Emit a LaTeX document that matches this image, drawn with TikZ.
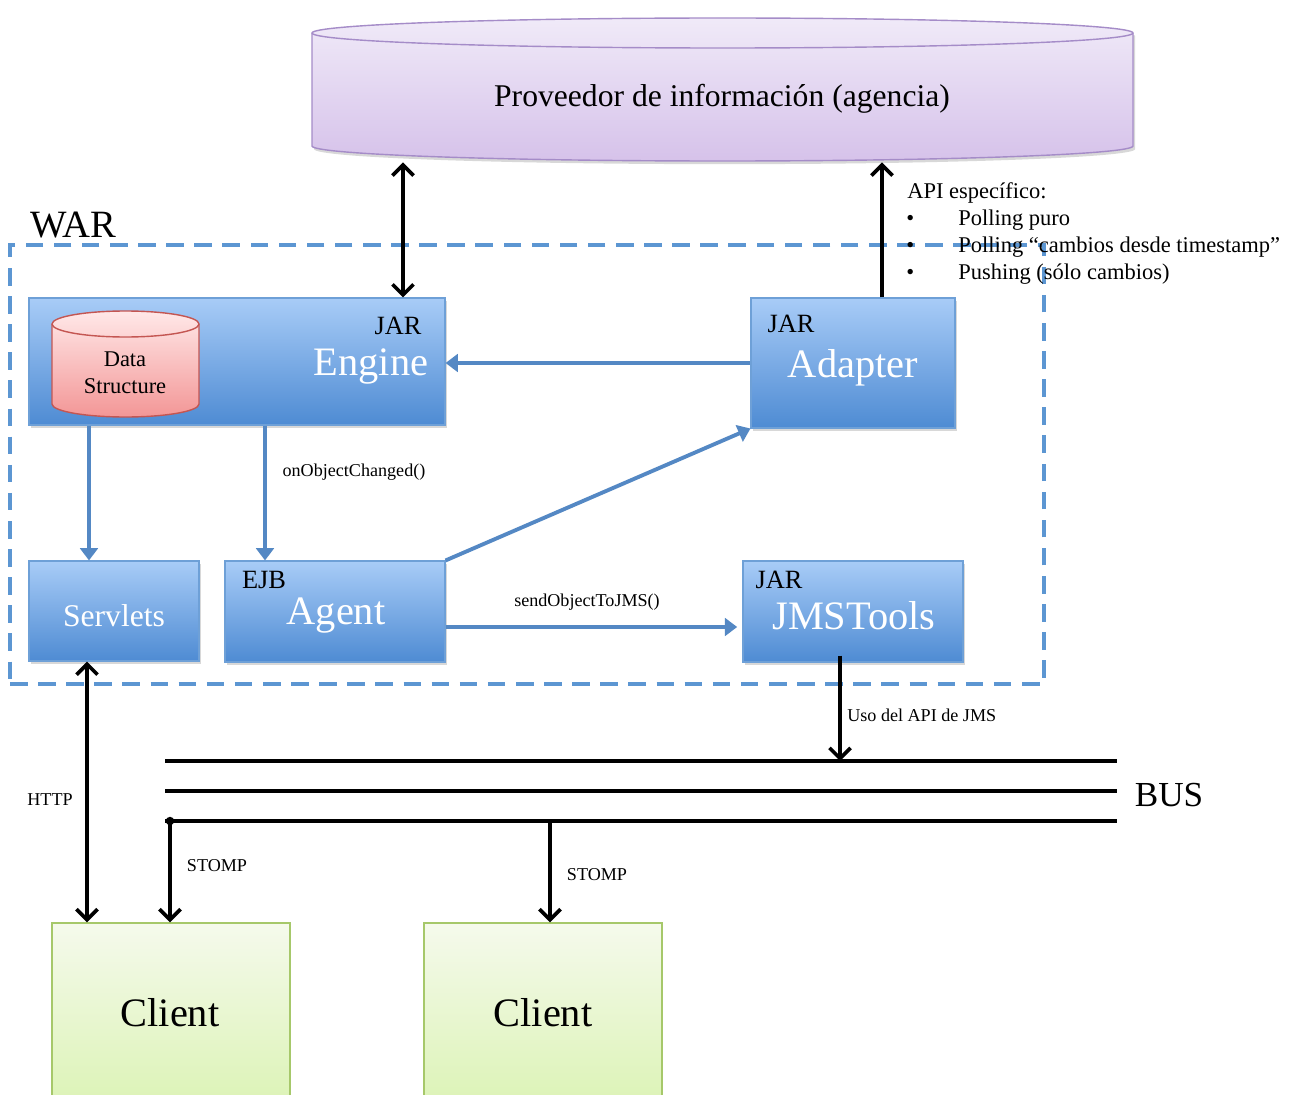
\documentclass[tikz,border=0pt]{standalone}
\usepackage{fontspec}
\setmainfont{Liberation Serif}
\usetikzlibrary{arrows.meta,shadows,fit}

\definecolor{bluetop}{RGB}{168,204,247}
\definecolor{bluebot}{RGB}{78,139,211}
\definecolor{blueedge}{RGB}{110,160,215}
\definecolor{arrowblue}{RGB}{84,136,196}
\definecolor{warblue}{RGB}{92,150,210}
\definecolor{pinktop}{RGB}{255,232,232}
\definecolor{pinkbot}{RGB}{243,150,150}
\definecolor{pinkedge}{RGB}{196,86,82}
\definecolor{lavtop}{RGB}{240,234,248}
\definecolor{lavbot}{RGB}{214,194,234}
\definecolor{lavedge}{RGB}{165,140,200}
\definecolor{greentop}{RGB}{245,250,236}
\definecolor{greenbot}{RGB}{220,243,182}
\definecolor{greenedge}{RGB}{166,200,106}

\begin{document}
\begin{tikzpicture}[x=0.02cm,y=-0.02cm,
  softshadow/.style={drop shadow={shadow xshift=1.2pt,shadow yshift=-1.8pt,opacity=0.3}},
  bluebox/.style={draw=blueedge,line width=0.6pt,top color=bluetop,bottom color=bluebot,
                  softshadow,inner sep=0pt},
  clientbox/.style={draw=greenedge,line width=0.8pt,top color=greentop,bottom color=greenbot,
                  inner sep=0pt},
  warbox/.style={draw=warblue,line width=2.2pt,dash pattern=on 10pt off 6pt,inner sep=0pt},
  tag/.style={font=\fontsize{15}{18}\selectfont,inner sep=0pt},
  title/.style={font=\fontsize{23}{27}\selectfont,text=white,inner sep=0pt},
  note/.style={font=\fontsize{10.3}{12}\selectfont,inner sep=0pt},
  listtext/.style={font=\fontsize{12.8}{15}\selectfont,inner sep=0pt,anchor=west},
  bigtext/.style={font=\fontsize{22}{26}\selectfont,inner sep=0pt},
  blk/.style={line width=2.1pt,-{Straight Barb[length=6pt,width=12pt]}},
  blkboth/.style={line width=2.1pt,{Straight Barb[length=6pt,width=12pt]}-{Straight Barb[length=6pt,width=12pt]}},
  bluearr/.style={draw=arrowblue,line width=2.2pt,-{Triangle[length=7pt,width=10pt]}},
  busline/.style={line width=2.4pt}]

\clip (0,0) rectangle (1295,1095);
\fill[white] (0,0) rectangle (1295,1095);

% information provider (large cylinder)
\path[top color=lavtop,bottom color=lavbot,draw=lavedge,line width=0.8pt,softshadow]
  (312,33) -- (312,146) arc[start angle=180,end angle=0,x radius=410.5,y radius=15]
  -- (1133,33) arc[start angle=0,end angle=-180,x radius=410.5,y radius=15] -- cycle;
\draw[lavedge,line width=0.8pt] (312,33) arc[start angle=180,end angle=0,x radius=410.5,y radius=15];
\node[inner sep=0pt,fit={(312,18)(1133,162)}] (prov) {};
\node[font=\fontsize{18}{22}\selectfont,inner sep=0pt] (provtext) at (722,99) {Proveedor de información (agencia)};

% WAR container
\node[warbox,fit={(10,245)(1044,684)}] (war) {};
\node[bigtext] (warlabel) at (73,225) {WAR};

% components
\node[bluebox,fit={(29,298)(445,425)}] (engine) {};
\node[tag] (engjar) at (398,326) {JAR};
\node[title] (engtitle) at (371,366) {Engine};

\node[bluebox,fit={(751,298)(955,428)}] (adapter) {};
\node[tag] (adajar) at (791,324) {JAR};
\node[title] (adatitle) at (853,368) {Adapter};

\node[bluebox,fit={(29,561)(199,661)}] (servlets) {};
\node[font=\fontsize{18}{22}\selectfont,text=white,inner sep=0pt] (servtitle) at (114,616) {Servlets};

\node[bluebox,fit={(225,561)(445,662)}] (agent) {};
\node[tag] (agejb) at (264,580) {EJB};
\node[title] (agtitle) at (336,616) {Agent};

\node[bluebox,fit={(743,561)(963,662)}] (jms) {};
\node[tag] (jmsjar) at (779,580) {JAR};
\node[title] (jmstitle) at (854,616) {JMSTools};

% data structure (small cylinder inside the engine)
\path[top color=pinktop,bottom color=pinkbot,draw=pinkedge,line width=0.8pt]
  (52,324) -- (52,404) arc[start angle=180,end angle=0,x radius=73.5,y radius=13]
  -- (199,324) arc[start angle=0,end angle=-180,x radius=73.5,y radius=13] -- cycle;
\draw[pinkedge,line width=0.8pt] (52,324) arc[start angle=180,end angle=0,x radius=73.5,y radius=13];
\node[font=\fontsize{12.8}{15.5}\selectfont,align=center,inner sep=0pt] (ds) at (125,373) {Data\\Structure};

% clients
\node[clientbox,fit={(52,923)(290,1105)}] (client1) {};
\node[bigtext,font=\fontsize{23}{27}\selectfont] (c1text) at (170,1013) {Client};
\node[clientbox,fit={(424,923)(662,1105)}] (client2) {};
\node[bigtext,font=\fontsize{23}{27}\selectfont] (c2text) at (543,1013) {Client};

% links to the information provider
\draw[blkboth] (prov.south -| 403,0) -- (engine.north -| 403,0);
\draw[blk] (adapter.north -| 882,0) -- (prov.south -| 882,0);

\node[listtext] (apititle) at (907,193) {API específico:};
\node[listtext] (b1) at (906,220) {•};
\node[listtext] (l1) at (958,220) {Polling puro};
\node[listtext] (b2) at (906,247) {•};
\node[listtext] (l2) at (958,247) {Polling “cambios desde timestamp”};
\node[listtext] (b3) at (906,274) {•};
\node[listtext] (l3) at (958,274) {Pushing (sólo cambios)};

% internal flows
\draw[bluearr] (adapter.west) -- (adapter.west -| engine.east);
\draw[bluearr] (engine.south -| 89,0) -- (servlets.north -| 89,0);
\draw[bluearr] (engine.south -| 265,0) -- (agent.north -| 265,0);
\node[note] (onobj) at (354,472) {onObjectChanged()};
\draw[bluearr] (agent.north east) -- (adapter.south west);
\draw[bluearr,shorten >=3pt] (agent.east |- 0,627) -- (jms.west |- 0,627);
\node[note] (sendobj) at (587,602) {sendObjectToJMS()};

% message bus
\coordinate (bus1w) at (165,761);
\coordinate (bus1e) at (1117,761);
\coordinate (bus2w) at (165,791);
\coordinate (bus2e) at (1117,791);
\coordinate (bus3w) at (165,821);
\coordinate (bus3e) at (1117,821);
\draw[busline] (bus1w) -- (bus1e);
\draw[busline] (bus2w) -- (bus2e);
\draw[busline] (bus3w) -- (bus3e);
\node[bigtext,font=\fontsize{20}{24}\selectfont] (buslabel) at (1169,795) {BUS};

\draw[blk] ([yshift=4pt]jms.south -| 840,0) -- (bus1w -| 840,0);
\node[note,anchor=west] (jmsapi) at (847,715) {Uso del API de JMS};

% client connections
\draw[blkboth] (servlets.south -| 87,0) -- (client1.north -| 87,0);
\node[note] (http) at (50,800) {HTTP};

\coordinate (tap1) at (170,821);
\coordinate (tap2) at (550,821);
\fill (tap1) circle[radius=2.4pt];
\draw[blk] (tap1) -- (client1.north -| tap1);
\node[note] (stomp1) at (217,866) {STOMP};
\draw[blk] (tap2) -- (client2.north -| tap2);
\node[note] (stomp2) at (597,875) {STOMP};

\end{tikzpicture}
\end{document}
